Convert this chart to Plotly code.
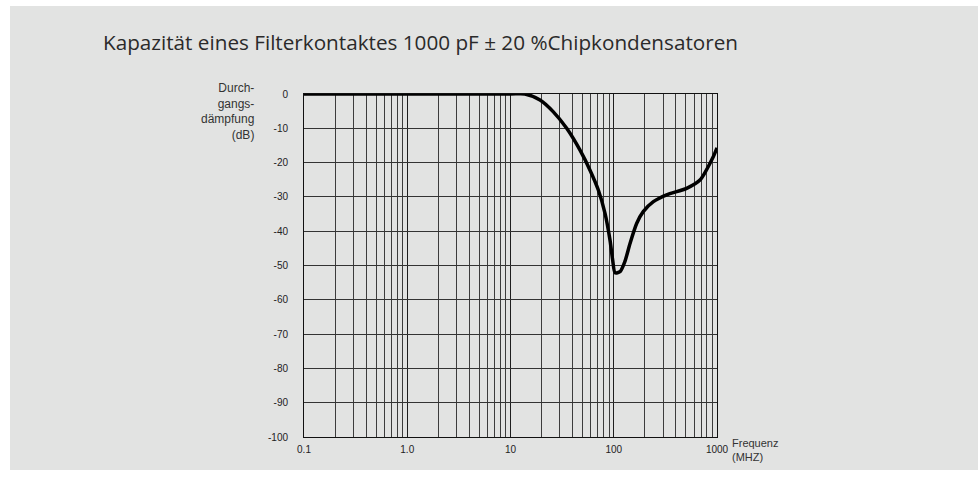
import plotly.graph_objects as go

# ---- data ----
freq_mhz = [0.1, 1, 10, 13.8, 19.3, 26, 35, 47, 58.9, 70.9, 82.3, 92, 97.6, 103,
            115, 128, 144, 167, 193, 242, 325, 508, 684, 920, 1000]
attenuation_db = [0, 0, 0, 0, -1.75, -5.2, -10.0, -16.3, -22.2, -28, -34.8, -42.6, -48.4, -52.1,
                  -51.8, -48.9, -43.5, -37.7, -34.3, -31.4, -29.4, -27.5, -25.1, -18.3, -15.7]

x_tickvals = [0.1, 1, 10, 100, 1000]
x_ticktext = ["0.1", "1.0", "10", "100", "1000"]
x_minor_vals = [m * d for d in [0.1, 1, 10, 100] for m in range(2, 10)]
y_tickvals = [0, -10, -20, -30, -40, -50, -60, -70, -80, -90, -100]
y_ticktext = ["0", "-10", "-20", "-30", "-40", "-50", "-60", "-70", "-80", "-90", "-100"]

title_text = "Kapazität eines Filterkontaktes 1000 pF ± 20 %Chipkondensatoren"
y_title_text = "Durch-<br>gangs-<br>dämpfung<br>(dB)"
x_title_text = "Frequenz<br>(MHZ)"

BG = "#e2e3e2"
FONT = "Liberation Sans, Arial, sans-serif"
TITLE_FONT = "Open Sans, Liberation Sans, sans-serif"

W, H = 978, 479
L, R, T, B = 304, 261, 94, 42
pw, ph = W - L - R, H - T - B

fig = go.Figure()
fig.add_trace(go.Scatter(
    x=freq_mhz, y=attenuation_db, mode="lines",
    line=dict(color="#000000", width=3.5, shape="spline", smoothing=0.7),
    hoverinfo="skip", showlegend=False,
))

fig.update_layout(
    width=W, height=H, autosize=False,
    margin=dict(l=L, r=R, t=T, b=B, pad=0),
    paper_bgcolor="#ffffff", plot_bgcolor=BG,
    font=dict(family=FONT, color="#222222", size=10),
    showlegend=False,
)

fig.update_xaxes(
    type="log", range=[-1, 3],
    tickvals=x_tickvals, ticktext=x_ticktext,
    showgrid=True, gridcolor="#1e1e1e", gridwidth=1,
    minor=dict(tickvals=x_minor_vals, showgrid=True, gridcolor="#3c3c3c", gridwidth=1, ticks=""),
    showline=True, linecolor="#111111", linewidth=1, mirror=True,
    ticks="outside", ticklen=3, tickcolor="rgba(0,0,0,0)",
    tickfont=dict(size=10, color="#222222", family=FONT),
    zeroline=False, fixedrange=True,
)
fig.update_yaxes(
    range=[-100, 0],
    tickvals=y_tickvals, ticktext=y_ticktext,
    showgrid=True, gridcolor="#333333", gridwidth=1,
    showline=True, linecolor="#111111", linewidth=1, mirror=True,
    ticks="outside", ticklen=13, tickcolor="rgba(0,0,0,0)",
    tickfont=dict(size=10, color="#222222", family=FONT),
    zeroline=False, fixedrange=True,
)

# grey panel behind everything (white strip on left/top/bottom as in reference)
fig.add_shape(
    type="rect", xref="paper", yref="paper", layer="below",
    x0=(10 - L) / pw, x1=(W - L) / pw,
    y0=(H - 470 - B) / ph, y1=(H - 6 - B) / ph,
    fillcolor=BG, line=dict(width=0),
)

# title
fig.add_annotation(
    text=title_text, xref="paper", yref="paper",
    x=(101 - L) / pw, y=(H - 42 - B) / ph, xanchor="left", yanchor="middle",
    showarrow=False, font=dict(size=20.7, color="#2a2a2a", family=TITLE_FONT),
)
# y-axis title
fig.add_annotation(
    text=y_title_text, xref="paper", yref="paper",
    x=(256 - L) / pw, y=(H - 79 - B) / ph, xanchor="right", yanchor="top", align="right",
    showarrow=False, font=dict(size=12, color="#333333", family=FONT),
)
# x-axis title
fig.add_annotation(
    text=x_title_text, xref="paper", yref="paper",
    x=(730 - L) / pw, y=(H - 435 - B) / ph, xanchor="left", yanchor="top", align="left",
    showarrow=False, font=dict(size=11, color="#333333", family=FONT),
)

fig.write_html(
    "out.html",
    config={"displayModeBar": False, "staticPlot": True},
    post_script="document.body.style.margin='0';document.body.style.padding='0';"
                "document.documentElement.style.overflow='hidden';",
)
